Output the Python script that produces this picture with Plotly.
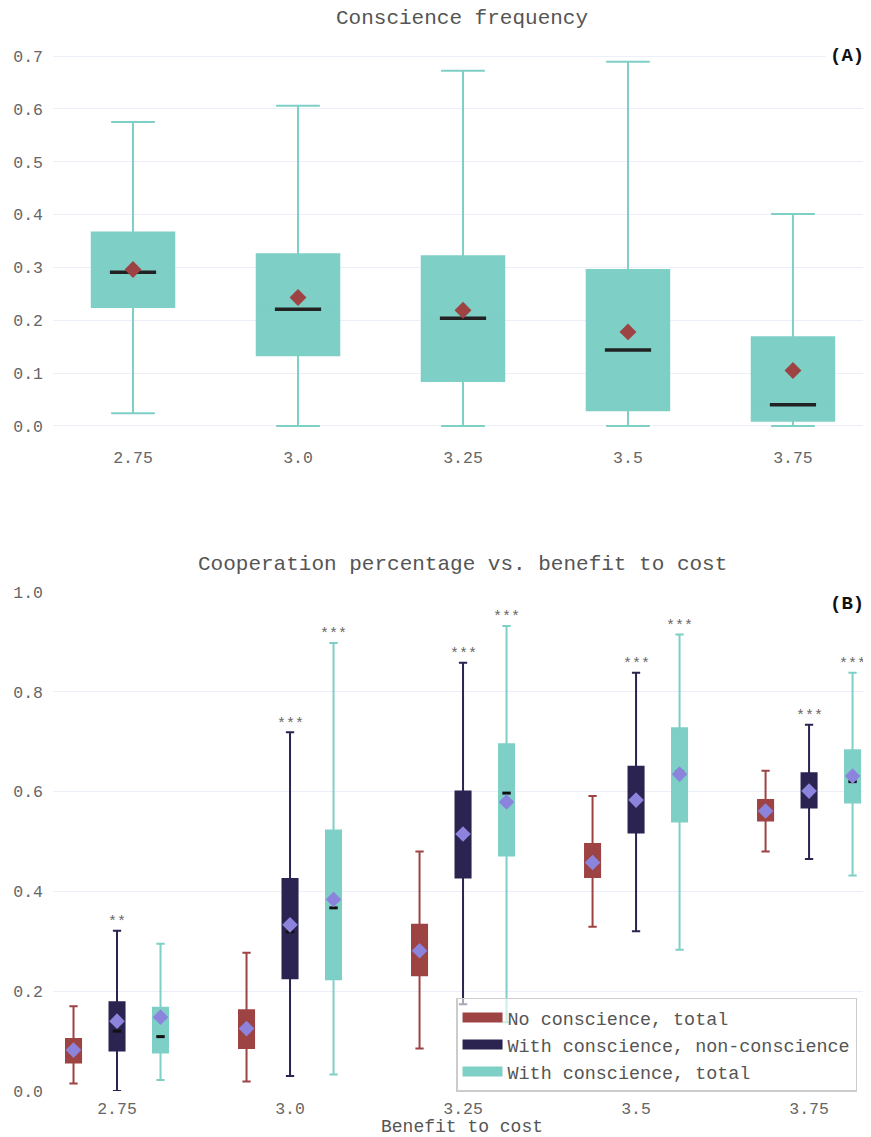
import plotly.graph_objects as go
from plotly.subplots import make_subplots

categories = ["2.75", "3.0", "3.25", "3.5", "3.75"]

# (A) conscience frequency
freq_lower = [0.024, 0.0, 0.0, 0.0, 0.0]
freq_q1 = [0.225, 0.134, 0.085, 0.030, 0.010]
freq_median = [0.291, 0.221, 0.204, 0.144, 0.040]
freq_q3 = [0.366, 0.325, 0.321, 0.295, 0.168]
freq_upper = [0.575, 0.606, 0.672, 0.689, 0.401]
freq_mean = [0.296, 0.243, 0.219, 0.178, 0.105]

# (B) cooperation, no conscience (total)
nc_lower = [0.015, 0.019, 0.085, 0.329, 0.480]
nc_q1 = [0.057, 0.086, 0.232, 0.429, 0.542]
nc_median = [0.080, 0.125, 0.280, 0.458, 0.560]
nc_q3 = [0.104, 0.162, 0.333, 0.495, 0.583]
nc_upper = [0.170, 0.277, 0.480, 0.591, 0.642]
nc_mean = [0.082, 0.125, 0.281, 0.458, 0.561]

# with conscience, non-conscience agents
wn_lower = [0.0, 0.030, 0.174, 0.320, 0.465]
wn_q1 = [0.081, 0.226, 0.428, 0.518, 0.568]
wn_median = [0.120, 0.319, 0.510, 0.580, 0.600]
wn_q3 = [0.178, 0.425, 0.600, 0.650, 0.637]
wn_upper = [0.321, 0.719, 0.858, 0.838, 0.734]
wn_mean = [0.140, 0.333, 0.515, 0.583, 0.601]

# with conscience, total
wt_lower = [0.022, 0.033, 0.138, 0.283, 0.432]
wt_q1 = [0.077, 0.224, 0.472, 0.540, 0.578]
wt_median = [0.109, 0.367, 0.597, 0.640, 0.620]
wt_q3 = [0.167, 0.522, 0.695, 0.727, 0.683]
wt_upper = [0.295, 0.898, 0.932, 0.915, 0.838]
wt_mean = [0.148, 0.384, 0.579, 0.635, 0.631]

sig_wn = ["**", "***", "***", "***", "***"]
sig_wt = ["", "***", "***", "***", "***"]

teal = "#7ecfc6"
red = "#9e4343"
navy = "#2b2350"
purple = "#8c84dc"
font_family = "Courier New, Liberation Mono, monospace"

pos = list(range(len(categories)))

fig = make_subplots(rows=2, cols=1)

# top panel
fig.add_trace(go.Box(
    x=pos, q1=freq_q1, median=freq_median, q3=freq_q3,
    lowerfence=freq_lower, upperfence=freq_upper,
    width=0.5, whiskerwidth=0.53, fillcolor=teal,
    line=dict(color=teal, width=2), showlegend=False, hoverinfo="skip"),
    row=1, col=1)
fig.add_trace(go.Scatter(
    x=pos, y=freq_median, mode="markers", showlegend=False,
    marker=dict(symbol="line-ew", size=33, line=dict(color="#222", width=3.5))),
    row=1, col=1)
fig.add_trace(go.Scatter(
    x=pos, y=freq_mean, mode="markers", showlegend=False,
    marker=dict(symbol="diamond", size=13, color=red)),
    row=1, col=1)

# bottom panel, three groups side by side
offset = 0.2514
groups = [
    ("No conscience, total", red, -offset, nc_lower, nc_q1, nc_median, nc_q3, nc_upper, nc_mean),
    ("With conscience, non-conscience", navy, 0.0, wn_lower, wn_q1, wn_median, wn_q3, wn_upper, wn_mean),
    ("With conscience, total", teal, offset, wt_lower, wt_q1, wt_median, wt_q3, wt_upper, wt_mean),
]
for name, col, off, lo, q1, med, q3, up, mn in groups:
    xs = [p + off for p in pos]
    fig.add_trace(go.Box(
        x=xs, q1=q1, median=med, q3=q3, lowerfence=lo, upperfence=up,
        width=0.087, whiskerwidth=0.55, fillcolor=col, name=name, showlegend=False,
        line=dict(color=col, width=2), hoverinfo="skip"),
        row=2, col=1)
    fig.add_trace(go.Scatter(
        x=xs, y=med, mode="markers", showlegend=False,
        marker=dict(symbol="line-ew", size=6, line=dict(color="#111", width=3))),
        row=2, col=1)
    fig.add_trace(go.Scatter(
        x=xs, y=mn, mode="markers", showlegend=False,
        marker=dict(symbol="diamond", size=12, color=purple)),
        row=2, col=1)
    # legend swatch (wide filled rectangle)
    fig.add_trace(go.Scatter(
        x=[None], y=[None], mode="lines", name=name,
        line=dict(color=col, width=14)),
        row=2, col=1)

# significance stars
for p, s, y in zip(pos, sig_wn, wn_upper):
    if s:
        fig.add_annotation(x=p, y=y, xref="x2", yref="y2", text=s, showarrow=False,
                           yanchor="middle", yshift=8, font=dict(size=15, color="#666"))
for p, s, y in zip(pos, sig_wt, wt_upper):
    if s:
        fig.add_annotation(x=p + offset, y=y, xref="x2", yref="y2", text=s, showarrow=False,
                           yanchor="middle", yshift=8, font=dict(size=15, color="#666"))

# titles and panel labels
fig.add_annotation(x=0.5, y=1, xref="x domain", yref="y domain", text="Conscience frequency",
                   showarrow=False, yanchor="middle", yshift=24, font=dict(size=21, color="#555"))
fig.add_annotation(x=0.5, y=1, xref="x2 domain", yref="y2 domain",
                   text="Cooperation percentage vs. benefit to cost",
                   showarrow=False, yanchor="middle", yshift=27, font=dict(size=21, color="#555"))
fig.add_annotation(x=1, y=0.7, xref="x domain", yref="y", text="<b>(A)</b>", showarrow=False,
                   xanchor="right", yanchor="middle", bgcolor="white", borderpad=4, xshift=-2,
                   font=dict(size=19, color="#111"))
fig.add_annotation(x=1, y=0.976, xref="x2 domain", yref="y2", text="<b>(B)</b>", showarrow=False,
                   xanchor="right", yanchor="middle", bgcolor="white", borderpad=4, xshift=-2,
                   font=dict(size=19, color="#111"))

fig.update_layout(
    template="plotly_white",
    width=863, height=1129,
    margin=dict(l=45, r=0, t=34, b=46),
    font=dict(family=font_family, color="#555"),
    legend=dict(x=0.4927, y=0.089, xanchor="left", yanchor="top", itemwidth=40,
                bgcolor="rgba(255,255,255,0.6)", bordercolor="#ccc", borderwidth=1.5,
                tracegroupgap=0, font=dict(size=18.4, color="#555")),
)
fig.update_xaxes(tickvals=pos, ticktext=categories, showgrid=False, zeroline=False,
                 tickfont=dict(size=16.5, color="#666"))
fig.update_xaxes(range=[-0.485, 4.473], row=1, col=1)
fig.update_xaxes(range=[-0.37, 4.358], ticklabelstandoff=5,
                 title=dict(text="Benefit to cost", font=dict(size=18), standoff=4),
                 row=2, col=1)
fig.update_yaxes(tickformat=".1f", zeroline=False, ticklabelstandoff=9,
                 tickfont=dict(size=16.5, color="#666"))
fig.update_yaxes(domain=[0.6149, 1.0], range=[-0.0378, 0.7265], dtick=0.1, row=1, col=1)
fig.update_yaxes(domain=[0.0, 0.4757], range=[0, 1.0], dtick=0.2, row=2, col=1)

fig.write_html("out.html")
